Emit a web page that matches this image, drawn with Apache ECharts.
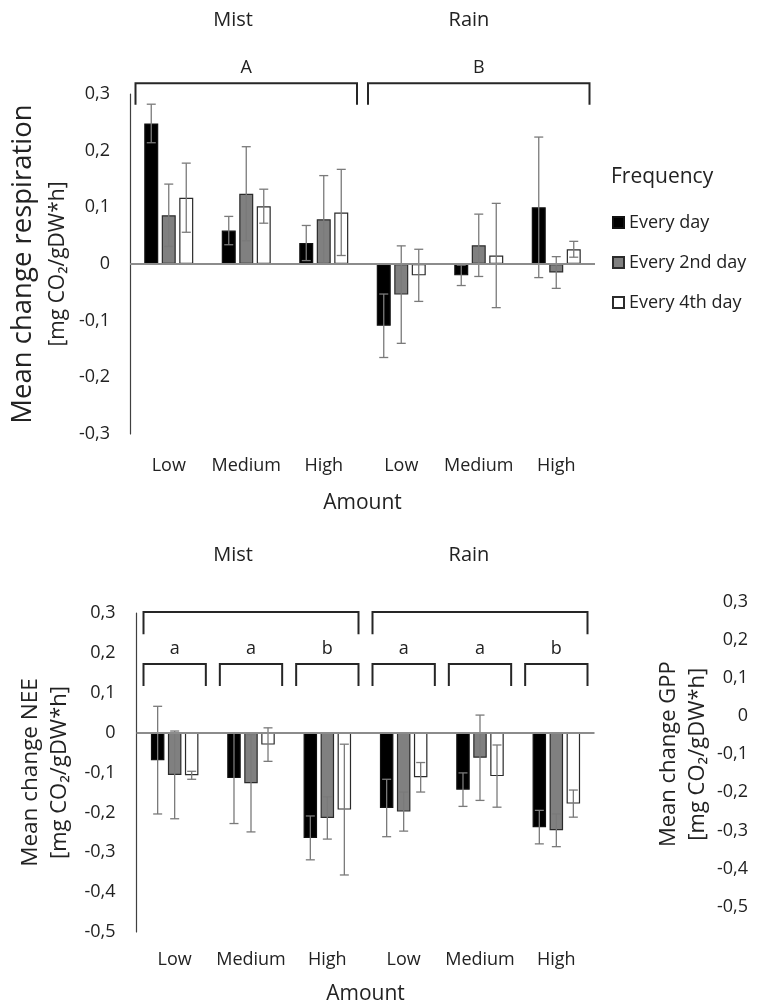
<!DOCTYPE html>
<html>
<head>
<meta charset="utf-8">
<script src="https://cdn.jsdelivr.net/npm/echarts@6/dist/echarts.min.js"></script>
<style>
  html, body { margin: 0; padding: 0; background: #fff; }
  #chart { width: 757px; height: 1007px; }
</style>
</head>
<body>
<div id="chart"></div>
<script>
// Amount categories, split into the Mist and Rain treatments
const amounts = ['Low', 'Medium', 'High', 'Low', 'Medium', 'High'];
const frequencies = ['Every day', 'Every 2nd day', 'Every 4th day'];
const treatments = ['Mist', 'Rain'];

// Mean change in respiration, one array per watering frequency
const respEveryDay = [0.248, 0.059, 0.037, -0.109, -0.020, 0.100];
const resp2ndDay   = [0.086, 0.124, 0.079, -0.054, 0.033, -0.015];
const resp4thDay   = [0.117, 0.102, 0.091, -0.020, 0.015, 0.026];
// Error (± half-length of the whisker) for respiration
const respErrEveryDay = [0.034, 0.025, 0.031, 0.056, 0.018, 0.124];
const respErr2ndDay   = [0.055, 0.083, 0.077, 0.086, 0.055, 0.028];
const respErr4thDay   = [0.061, 0.030, 0.076, 0.046, 0.092, 0.014];

// Mean change in NEE
const neeEveryDay = [-0.069, -0.114, -0.264, -0.189, -0.143, -0.237];
const nee2ndDay   = [-0.106, -0.127, -0.214, -0.198, -0.063, -0.245];
const nee4thDay   = [-0.107, -0.030, -0.193, -0.112, -0.109, -0.178];
const neeErrEveryDay = [0.135, 0.114, 0.055, 0.072, 0.042, 0.042];
const neeErr2ndDay   = [0.110, 0.122, 0.053, 0.049, 0.107, 0.041];
const neeErr4thDay   = [0.010, 0.042, 0.164, 0.037, 0.078, 0.034];

// Significance groupings: [first category, last category]
const treatmentSpans = [[0, 2], [3, 5]];
const amountSpans = [[0, 0], [1, 1], [2, 2], [3, 3], [4, 4], [5, 5]];
const respLetters = ['A', 'B'];
const neeLetters = ['a', 'a', 'b', 'a', 'a', 'b'];

const FONT = '"Open Sans", "Noto Sans", sans-serif';
const TEXT = '#222';
const fills = ['#000000', '#808080', '#ffffff'];
const borders = ['#111111', '#2b2b2b', '#2b2b2b'];

const fmt = v => String(+(+v).toFixed(1)).replace('.', ',');

function barSeries(axis, values, errors, k, barW, gapRatio) {
  const s = [{
    type: 'bar', name: frequencies[k], xAxisIndex: axis, yAxisIndex: axis,
    data: values, barWidth: barW, barGap: (gapRatio * 100) + '%', z: 2,
    itemStyle: { color: fills[k], borderColor: borders[k], borderWidth: 1.2 }
  }];
  if (k === 0) {
    s[0].markLine = {
      silent: true, symbol: 'none', label: { show: false },
      lineStyle: { color: '#8c8c8c', width: 2, type: 'solid' },
      data: [{ yAxis: 0 }]
    };
  }
  const step = barW * (1 + gapRatio);
  s.push({
    type: 'custom', xAxisIndex: axis, yAxisIndex: axis, z: 4, silent: true,
    data: values.map((v, i) => [i, v - errors[i], v + errors[i]]),
    renderItem(params, api) {
      const cx = api.coord([api.value(0), 0])[0] + (k - 1) * step;
      const yLo = api.coord([api.value(0), api.value(1)])[1];
      const yHi = api.coord([api.value(0), api.value(2)])[1];
      const st = { stroke: '#7a7a7a', lineWidth: 1.3 };
      const cap = 4.5;
      return {
        type: 'group', children: [
          { type: 'line', shape: { x1: cx, y1: yLo, x2: cx, y2: yHi }, style: st },
          { type: 'line', shape: { x1: cx - cap, y1: yHi, x2: cx + cap, y2: yHi }, style: st },
          { type: 'line', shape: { x1: cx - cap, y1: yLo, x2: cx + cap, y2: yLo }, style: st }
        ]
      };
    }
  });
  return s;
}

function bracketSeries(axis, spans, letters, yTop, yLeg, inset) {
  return {
    type: 'custom', xAxisIndex: axis, yAxisIndex: axis, z: 5, silent: true, clip: false,
    data: spans.map((sp, i) => [sp[0], sp[1], i]),
    renderItem(params, api) {
      const band = api.size([1, 0])[0];
      const pa = api.coord([api.value(0), yTop]);
      const pb = api.coord([api.value(1), yTop]);
      const yL = api.coord([api.value(0), yLeg])[1];
      const x0 = pa[0] - band / 2 + inset;
      const x1 = pb[0] + band / 2 - inset;
      const yT = pa[1];
      const children = [{
        type: 'polyline',
        shape: { points: [[x0, yL], [x0, yT], [x1, yT], [x1, yL]] },
        style: { stroke: '#262626', lineWidth: 2, fill: null }
      }];
      if (letters) {
        children.push({
          type: 'text', x: (x0 + x1) / 2, y: yT - 15,
          style: { text: letters[params.dataIndex], fill: TEXT, fontSize: 18, fontFamily: FONT,
                   align: 'center', verticalAlign: 'middle' }
        });
      }
      return { type: 'group', children };
    }
  };
}

const richName = (sa, sb, la, lb) => ({
  rich: {
    t: { fontSize: sa, lineHeight: la, fontFamily: FONT, color: TEXT },
    u: { fontSize: sb, lineHeight: lb, fontFamily: FONT, color: TEXT }
  }
});

const valueAxisBase = {
  type: 'value', interval: 0.1,
  axisTick: { show: false },
  splitLine: { show: false },
  axisLabel: { formatter: fmt, fontSize: 18, fontFamily: FONT, color: TEXT },
  nameLocation: 'middle', nameRotate: 90
};

const option = {
  animation: false,
  backgroundColor: '#fff',
  grid: [
    { left: 130, top: 94, width: 465, height: 340 },
    { left: 136.5, top: 613, width: 458, height: 320 },
    { left: 756, top: 601.7, width: 1, height: 305 }
  ],
  xAxis: [
    { gridIndex: 0, type: 'category', data: amounts, position: 'bottom',
      axisLine: { show: false, onZero: false }, axisTick: { show: false },
      axisLabel: { margin: 22, fontSize: 18, lineHeight: 20, fontFamily: FONT, color: TEXT, interval: 0 },
      name: 'Amount', nameLocation: 'middle', nameGap: 57,
      nameTextStyle: { fontSize: 21, lineHeight: 24, fontFamily: FONT, color: TEXT } },
    { gridIndex: 1, type: 'category', data: amounts, position: 'bottom',
      axisLine: { show: false, onZero: false }, axisTick: { show: false },
      axisLabel: { margin: 18, fontSize: 18, lineHeight: 20, fontFamily: FONT, color: TEXT, interval: 0 },
      name: 'Amount', nameLocation: 'middle', nameGap: 50,
      nameTextStyle: { fontSize: 21, lineHeight: 24, fontFamily: FONT, color: TEXT } },
    { gridIndex: 2, type: 'category', data: [''], show: false }
  ],
  yAxis: [
    Object.assign({}, valueAxisBase, {
      gridIndex: 0, min: -0.3, max: 0.3,
      axisLine: { show: true, lineStyle: { color: '#404040', width: 1.2 } },
      axisLabel: Object.assign({}, valueAxisBase.axisLabel, { margin: 20 }),
      name: '{t|Mean change respiration}\n{u|[mg CO₂/gDW*h]}', nameGap: 54,
      nameTextStyle: richName(27.5, 21, 38, 31)
    }),
    Object.assign({}, valueAxisBase, {
      gridIndex: 1, min: -0.5, max: 0.3,
      axisLine: { show: true, lineStyle: { color: '#404040', width: 1.2 } },
      axisLabel: Object.assign({}, valueAxisBase.axisLabel, { margin: 21 }),
      name: '{t|Mean change NEE}\n{u|[mg CO₂/gDW*h]}', nameGap: 62,
      nameTextStyle: richName(22.5, 22, 29, 29)
    }),
    Object.assign({}, valueAxisBase, {
      gridIndex: 2, min: -0.5, max: 0.3,
      axisLine: { show: false },
      axisLabel: Object.assign({}, valueAxisBase.axisLabel, { margin: 8 }),
      name: '{t|Mean change GPP}\n{u|[mg CO₂/gDW*h]}', nameGap: 44,
      nameTextStyle: richName(22, 22, 29, 29)
    })
  ],
  legend: {
    data: frequencies, orient: 'vertical', left: 612, top: 212.5,
    itemWidth: 11, itemHeight: 11, itemGap: 20, padding: 0, icon: 'rect',
    selectedMode: false,
    textStyle: { fontSize: 18, lineHeight: 20, fontFamily: FONT, color: TEXT }
  },
  graphic: [
    { type: 'text', x: 233, y: 20, style: { text: treatments[0], fontSize: 20, fontFamily: FONT, fill: TEXT, align: 'center', verticalAlign: 'middle' } },
    { type: 'text', x: 469, y: 20, style: { text: treatments[1], fontSize: 20, fontFamily: FONT, fill: TEXT, align: 'center', verticalAlign: 'middle' } },
    { type: 'text', x: 233, y: 555, style: { text: treatments[0], fontSize: 20, fontFamily: FONT, fill: TEXT, align: 'center', verticalAlign: 'middle' } },
    { type: 'text', x: 469, y: 555, style: { text: treatments[1], fontSize: 20, fontFamily: FONT, fill: TEXT, align: 'center', verticalAlign: 'middle' } },
    { type: 'text', x: 611, y: 177, style: { text: 'Frequency', fontSize: 21, fontFamily: FONT, fill: TEXT, align: 'left', verticalAlign: 'middle' } }
  ],
  series: [].concat(
    barSeries(0, respEveryDay, respErrEveryDay, 0, 14, 0.25),
    barSeries(0, resp2ndDay, respErr2ndDay, 1, 14, 0.25),
    barSeries(0, resp4thDay, respErr4thDay, 2, 14, 0.25),
    barSeries(1, neeEveryDay, neeErrEveryDay, 0, 13.5, 0.26),
    barSeries(1, nee2ndDay, neeErr2ndDay, 1, 13.5, 0.26),
    barSeries(1, nee4thDay, neeErr4thDay, 2, 13.5, 0.26),
    [
      bracketSeries(0, treatmentSpans, respLetters, 0.319, 0.281, 5.5),
      bracketSeries(1, treatmentSpans, null, 0.3025, 0.247, 7),
      bracketSeries(1, amountSpans, neeLetters, 0.172, 0.117, 7)
    ]
  )
};

const chart = echarts.init(document.getElementById('chart'), null, { renderer: 'canvas' });
chart.setOption(option);
</script>
</body>
</html>
